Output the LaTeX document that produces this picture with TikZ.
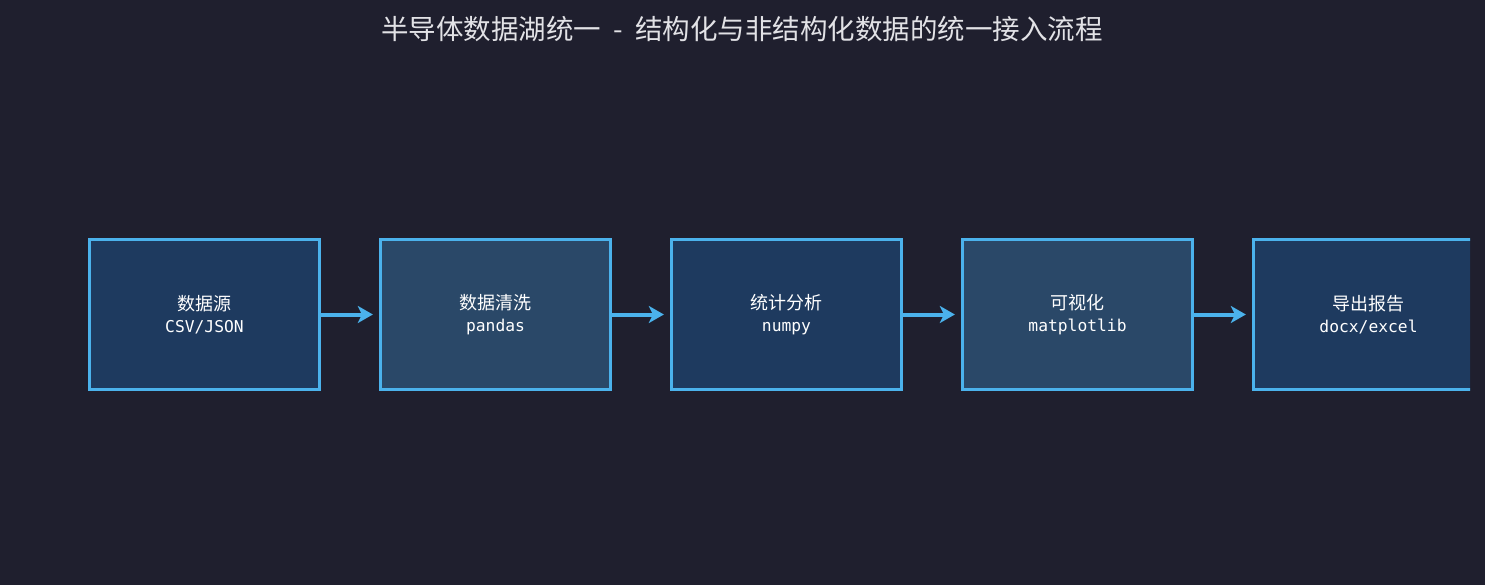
\documentclass[tikz,border=0pt]{standalone}
\usepackage{fontspec}
\setmainfont{Noto Sans CJK SC}
\newfontfamily\monofont{DejaVu Sans Mono}
\usetikzlibrary{arrows.meta, positioning}

\definecolor{bgdark}{HTML}{1F1F2E}
\definecolor{boxdark}{HTML}{1E3A5F}
\definecolor{boxlight}{HTML}{2A4868}
\definecolor{edgeblue}{HTML}{4BB2EC}
\definecolor{titlegray}{HTML}{E2E2E6}

\tikzset{
	stagebox/.style={draw=edgeblue, line width=3.3pt, minimum width=230pt, minimum height=150pt,
		inner sep=0pt, align=center, text=white, font=\fontsize{18}{22}\selectfont},
	flowarrow/.style={-{Stealth[length=15pt,width=17pt,inset=4pt]}, draw=edgeblue, line width=4pt, shorten >=6pt}
}

\begin{document}
\begin{tikzpicture}[x=1pt, y=-1pt]
	% background and page size
	\fill[bgdark] (0,0) rectangle (1485,585);
	\useasboundingbox (0,0) rectangle (1485,585);
	\node[text=titlegray, font=\fontsize{27.5}{30}\selectfont] (title) at (742,29) {半导体数据湖统一 \ - \ 结构化与非结构化数据的统一接入流程};
	% pipeline stages
	\begin{scope}
		\clip (0,0) rectangle (1470,585);
		\foreach \i/\c/\a/\b in {1/boxdark/数据源/{CSV/JSON},2/boxlight/数据清洗/pandas,3/boxdark/统计分析/numpy,4/boxlight/可视化/matplotlib,5/boxdark/导出报告/{docx/excel}} {
			\node[stagebox, fill=\c] (n\i) at ({204.5+291*(\i-1)},314.5)
				{\a\\{\monofont\fontsize{16.3}{22}\selectfont \b}};
		}
	\end{scope}
	\foreach \i [evaluate=\i as \j using int(\i+1)] in {1,...,4} {
		\draw[flowarrow] (n\i.east) -- (n\j.west);
	}
\end{tikzpicture}
\end{document}
